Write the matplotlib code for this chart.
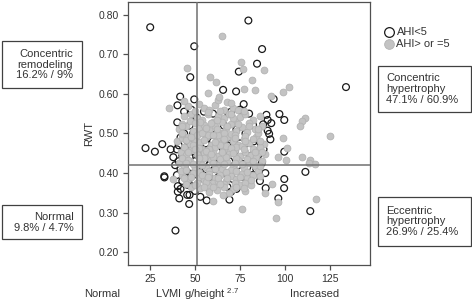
import matplotlib
matplotlib.use("Agg")
import matplotlib.pyplot as plt
from matplotlib.patches import Rectangle
from matplotlib.lines import Line2D

plt.rcParams['font.family'] = ['Liberation Sans', 'DejaVu Sans']
plt.rcParams['mathtext.fontset'] = 'custom'
plt.rcParams['mathtext.rm'] = 'Liberation Sans'

# ---------------- data ----------------
# AHI<5 (open circles): scattered points
open_x_out = [25.2, 49.6, 47.4, 41.8, 49.6, 40.3, 79.6, 87.2, 84.4, 74.3, 65.6, 72.8, 93.6, 133.7,
              77.0, 40.2, 22.6, 27.8, 31.9, 36.5, 33.1, 40.5, 33.0, 39.2, 46.8, 45.7, 41.3, 40.5,
              56.5, 69.1, 70.0, 89.2, 99.4, 96.2, 113.9, 89.6, 96.8, 99.5, 82.2, 87.8, 90.3, 92.3,
              90.3, 91.1, 91.8, 99.5, 111.2, 99.5, 82.6]
open_y_out = [0.768, 0.720, 0.642, 0.593, 0.586, 0.571, 0.785, 0.713, 0.676, 0.656, 0.610, 0.606, 0.587, 0.617,
              0.574, 0.528, 0.463, 0.454, 0.473, 0.460, 0.389, 0.367, 0.392, 0.255, 0.322, 0.345, 0.336, 0.353,
              0.331, 0.333, 0.353, 0.362, 0.362, 0.336, 0.304, 0.547, 0.549, 0.534, 0.521, 0.523, 0.534, 0.526,
              0.507, 0.499, 0.485, 0.454, 0.403, 0.385, 0.480]
# AHI<5: dense core
open_x_core = [38, 39, 40, 40, 41, 41, 42, 42, 43, 43, 44, 44, 45, 45, 46, 46, 47, 47, 48, 48, 49, 49, 50, 50,
               51, 51, 52, 52, 53, 53, 54, 54, 55, 55, 56, 56, 57, 57, 58, 58, 59, 60, 60, 61, 62, 62, 63, 64,
               64, 66, 66, 67, 68, 69, 70, 71, 72, 73, 74, 75, 76, 77, 78, 79, 80, 81, 82, 83, 84, 85, 87, 88,
               44, 48, 50, 55, 60, 65, 70, 75, 80, 42, 50, 58, 62, 68, 73, 86, 89, 47, 53]
open_y_core = [0.44, 0.42, 0.46, 0.395, 0.43, 0.47, 0.41, 0.49, 0.445, 0.38, 0.50, 0.425, 0.46, 0.405, 0.48, 0.37,
               0.44, 0.52, 0.415, 0.395, 0.455, 0.50, 0.43, 0.38, 0.47, 0.54, 0.42, 0.445, 0.49, 0.40, 0.46, 0.52,
               0.43, 0.385, 0.475, 0.41, 0.50, 0.45, 0.42, 0.39, 0.46, 0.48, 0.435, 0.41, 0.50, 0.455, 0.39, 0.47,
               0.425, 0.445, 0.52, 0.40, 0.47, 0.43, 0.49, 0.385, 0.455, 0.51, 0.42, 0.475, 0.39, 0.44, 0.50, 0.415,
               0.46, 0.43, 0.395, 0.47, 0.41, 0.445, 0.425, 0.46,
               0.555, 0.56, 0.545, 0.555, 0.55, 0.545, 0.555, 0.56, 0.55, 0.36, 0.355, 0.36, 0.37, 0.365, 0.36,
               0.38, 0.40, 0.345, 0.34]

# AHI>=5 (grey filled): scattered points
grey_x_out = [45.7, 44.2, 35.7, 65.2, 75.7, 76.5, 88.3, 58.2, 61.9, 81.7, 77.4, 83.1, 63.2, 92.4, 98.6, 102.1,
              70.0, 57.3, 42.9, 42.7, 38.1, 60.2, 75.9, 65.8, 95.8, 116.9, 95.1, 89.0, 110.8, 109.5, 108.0,
              98.8, 124.8, 101.2, 96.2, 100.5, 109.5, 113.5, 116.5, 113.0, 92.7, 86.3]
grey_y_out = [0.664, 0.583, 0.565, 0.746, 0.681, 0.662, 0.659, 0.642, 0.629, 0.635, 0.613, 0.609, 0.593, 0.595,
              0.604, 0.616, 0.578, 0.601, 0.519, 0.502, 0.386, 0.330, 0.310, 0.345, 0.326, 0.335, 0.287, 0.350,
              0.540, 0.532, 0.519, 0.488, 0.494, 0.463, 0.440, 0.433, 0.440, 0.432, 0.422, 0.426, 0.372, 0.393]
# AHI>=5: dense core
grey_x_core = [46, 52, 55, 58, 61, 66, 71, 74, 68, 63,
               44, 48, 51, 54, 57, 60, 63, 66, 69, 72, 75, 78, 82, 86,
               41, 45, 49, 52, 55, 58, 61, 64, 67, 70, 73, 76, 79, 83, 87, 59, 65,
               40, 43, 47, 50, 53, 56, 59, 62, 65, 68, 71, 74, 77, 80, 84, 88, 57, 63, 70, 51,
               42, 45, 48, 51, 54, 57, 60, 63, 66, 69, 72, 75, 78, 81, 85, 89, 55, 61, 67, 73,
               41, 44, 47, 50, 53, 56, 59, 62, 65, 68, 71, 74, 77, 80, 83, 87, 58, 64, 70, 55,
               43, 46, 49, 52, 55, 58, 61, 64, 67, 70, 73, 76, 79, 82, 60, 66,
               48, 53, 57, 62, 66, 71, 75, 78, 69, 58,
               47, 53, 62, 71, 80,
               43, 46, 54, 60, 66, 72, 78, 85,
               44, 49, 52, 58, 64, 70, 76, 82, 86,
               43, 46, 52, 60, 67, 73, 79, 84,
               42, 45, 52, 61, 67, 73, 79, 85,
               45, 51, 56, 63, 72, 78, 81,
               50, 57, 64, 70, 77,
               43, 50, 56, 62, 68, 74, 80, 85,
               45, 48, 55, 61, 66, 72, 78, 82, 86,
               46, 50, 56, 59, 65, 71, 77, 83, 87,
               45, 49, 54, 60, 66, 72, 76, 82, 86,
               44, 48, 54, 57, 63, 68, 75, 81,
               50, 55, 60, 64, 73, 77]
grey_y_core = [0.570, 0.575, 0.565, 0.560, 0.572, 0.558, 0.565, 0.560, 0.580, 0.585,
               0.545, 0.550, 0.540, 0.535, 0.548, 0.530, 0.545, 0.538, 0.550, 0.532, 0.542, 0.550, 0.535, 0.545,
               0.512, 0.520, 0.505, 0.515, 0.522, 0.508, 0.518, 0.502, 0.514, 0.524, 0.506, 0.517, 0.503, 0.512,
               0.520, 0.526, 0.528,
               0.480, 0.488, 0.474, 0.485, 0.478, 0.490, 0.472, 0.484, 0.476, 0.492, 0.480, 0.470, 0.487, 0.476,
               0.490, 0.474, 0.495, 0.497, 0.498, 0.495,
               0.452, 0.445, 0.458, 0.447, 0.462, 0.440, 0.455, 0.443, 0.460, 0.448, 0.457, 0.442, 0.453, 0.445,
               0.458, 0.448, 0.450, 0.465, 0.468, 0.466,
               0.425, 0.418, 0.430, 0.412, 0.427, 0.415, 0.432, 0.420, 0.410, 0.428, 0.417, 0.433, 0.412, 0.425,
               0.418, 0.430, 0.405, 0.436, 0.407, 0.437,
               0.395, 0.385, 0.400, 0.390, 0.382, 0.398, 0.387, 0.395, 0.380, 0.392, 0.385, 0.398, 0.388, 0.395,
               0.375, 0.372,
               0.365, 0.362, 0.370, 0.358, 0.365, 0.360, 0.370, 0.355, 0.350, 0.352,
               0.532, 0.528, 0.535, 0.540, 0.527,
               0.498, 0.492, 0.500, 0.496, 0.500, 0.495, 0.494, 0.500,
               0.466, 0.470, 0.463, 0.462, 0.470, 0.463, 0.468, 0.460, 0.467,
               0.438, 0.432, 0.438, 0.440, 0.440, 0.438, 0.436, 0.440,
               0.405, 0.408, 0.402, 0.410, 0.403, 0.405, 0.402, 0.405,
               0.372, 0.376, 0.377, 0.380, 0.375, 0.374, 0.370,
               0.556, 0.553, 0.556, 0.548, 0.557,
               0.523, 0.526, 0.513, 0.510, 0.520, 0.523, 0.518, 0.512,
               0.483, 0.490, 0.484, 0.478, 0.486, 0.488, 0.480, 0.486, 0.482,
               0.452, 0.460, 0.456, 0.448, 0.452, 0.450, 0.460, 0.452, 0.452,
               0.425, 0.422, 0.420, 0.425, 0.422, 0.425, 0.422, 0.430, 0.418,
               0.388, 0.390, 0.395, 0.390, 0.388, 0.388, 0.390, 0.382,
               0.370, 0.366, 0.364, 0.372, 0.366, 0.362]

x_ticks = [25, 50, 75, 100, 125]
y_ticks = [0.20, 0.30, 0.40, 0.50, 0.60, 0.70, 0.80]
lvmi_cut = 51
rwt_cut = 0.42

series_labels = ['AHI<5', 'AHI> or =5']
box_texts = {
    'cr': 'Concentric\nremodeling\n16.2% / 9%',
    'nm': 'Norrmal\n9.8% / 4.7%',
    'ch': 'Concentric\nhypertrophy\n47.1% / 60.9%',
    'eh': 'Eccentric\nhypertrophy\n26.9% / 25.4%',
}

# ---------------- figure ----------------
W, H = 472, 303
fig = plt.figure(figsize=(W / 100, H / 100), dpi=100)
fig.patch.set_facecolor('white')

def fx(px):
    return px / W

def fy(py):
    return 1 - py / H

ax = fig.add_axes([fx(128), fy(265), fx(370) - fx(128), fy(1.5) - fy(265)])
ax.set_xlim(12.9, 147.0)
ax.set_ylim(0.168, 0.833)

spine_col = '#505050'
for s in ax.spines.values():
    s.set_color(spine_col)
    s.set_linewidth(0.9)

grey_face = '#c3c3c3'
grey_edge = '#b3b3b3'
msize = 24

ax.scatter(open_x_core + open_x_out, open_y_core + open_y_out, s=msize, facecolors='none',
           edgecolors='#1a1a1a', linewidths=0.9, zorder=2)
ax.scatter(grey_x_core + grey_x_out, grey_y_core + grey_y_out, s=msize, facecolors=grey_face,
           edgecolors=grey_edge, linewidths=0.6, zorder=3)

ax.axvline(lvmi_cut, color='#707070', lw=1.1, zorder=4)
ax.axhline(rwt_cut, color='#707070', lw=1.1, zorder=4)

ax.set_xticks(x_ticks)
ax.set_yticks(y_ticks)
ax.set_yticklabels([f'{v:.2f}' for v in y_ticks])
ax.tick_params(direction='out', length=3.6, width=0.9, color=spine_col, labelsize=7.5,
               labelcolor='#333333', pad=3)
ax.set_ylabel('RWT', fontsize=8, color='#333333', labelpad=3)

# bottom labels
fig.text(fx(102), fy(294), 'Normal', fontsize=8, color='#333333', ha='center', va='center')
fig.text(fx(197), fy(294), 'LVMI g/height $^{2.7}$', fontsize=8, color='#333333', ha='center', va='center')
fig.text(fx(315), fy(294), 'Increased', fontsize=8, color='#333333', ha='center', va='center')

# boxes
def box(x0, y0, x1, y1, text, tx, ha):
    fig.add_artist(Rectangle((fx(x0), fy(y1)), fx(x1) - fx(x0), fy(y0) - fy(y1),
                             transform=fig.transFigure, fill=False, edgecolor='#404040', lw=0.9))
    fig.text(fx(tx), fy((y0 + y1) / 2), text, fontsize=8, color='#333333', ha=ha, va='center',
             multialignment=ha, linespacing=1.1)

box(2, 40.7, 81.7, 88.3, box_texts['cr'], 73, 'right')
box(2, 205, 82, 239.3, box_texts['nm'], 73.5, 'right')
box(377.7, 66, 470.7, 111.7, box_texts['ch'], 386, 'left')
box(377.7, 197.3, 470.7, 245.7, box_texts['eh'], 386, 'left')

# legend
fig.add_artist(Line2D([fx(389)], [fy(31.7)], transform=fig.transFigure, marker='o', markersize=7,
                      markerfacecolor='none', markeredgecolor='#1a1a1a', markeredgewidth=0.9, linestyle='none'))
fig.add_artist(Line2D([fx(389)], [fy(44)], transform=fig.transFigure, marker='o', markersize=7,
                      markerfacecolor=grey_face, markeredgecolor=grey_edge, markeredgewidth=0.6, linestyle='none'))
fig.text(fx(396.5), fy(31.7), series_labels[0], fontsize=8, color='#333333', ha='left', va='center')
fig.text(fx(396.5), fy(44), series_labels[1], fontsize=8, color='#333333', ha='left', va='center')

fig.savefig('out.png', dpi=100)
